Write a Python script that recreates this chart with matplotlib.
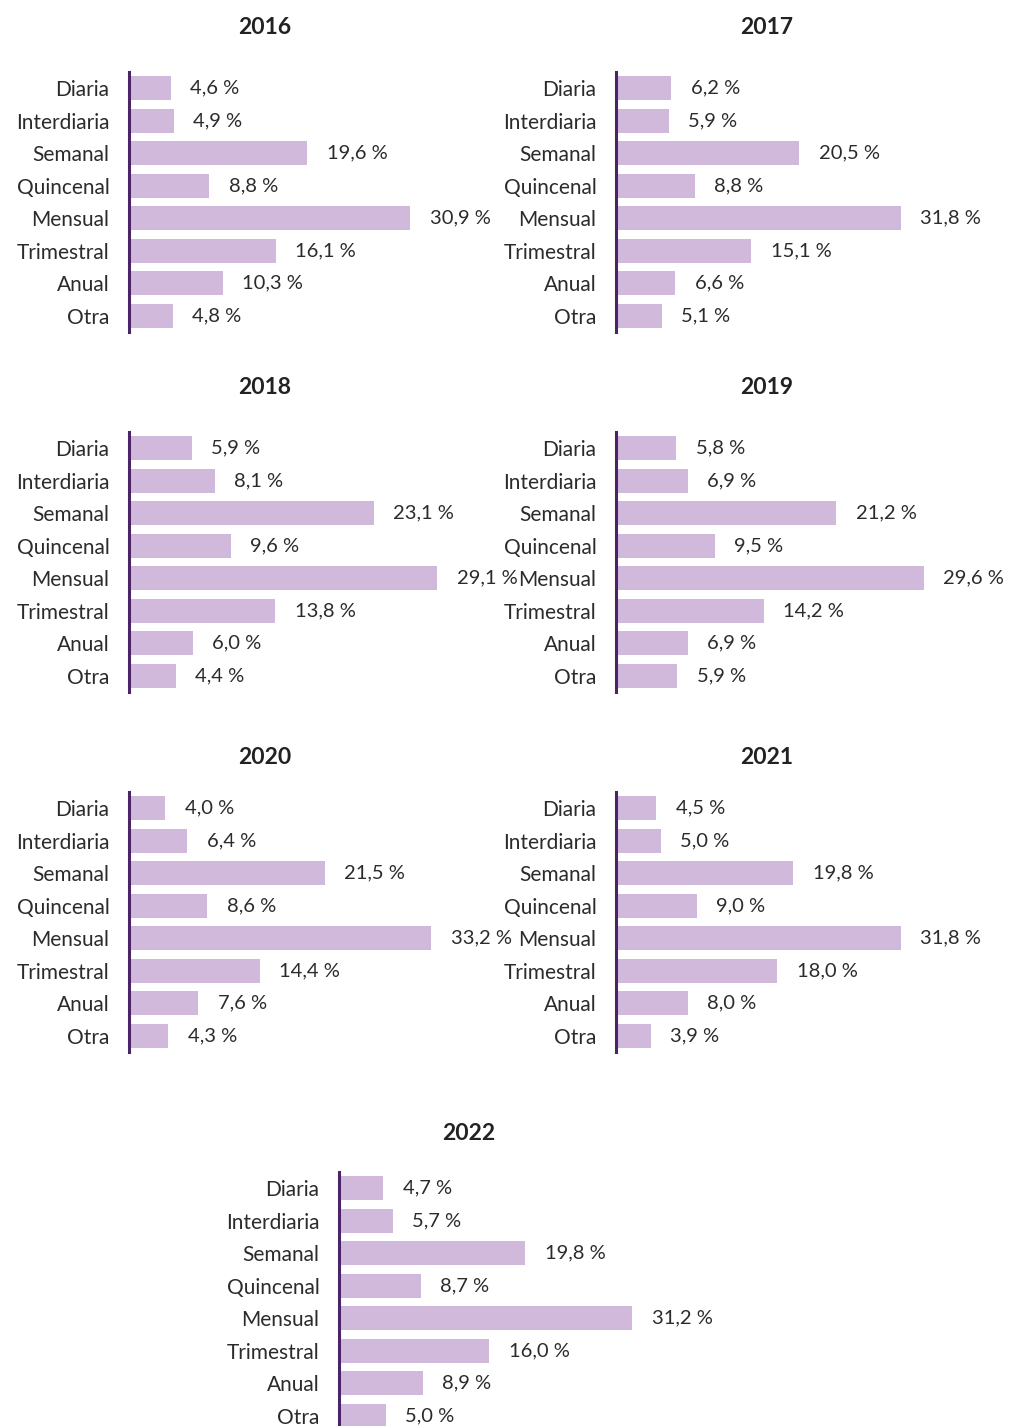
import matplotlib
matplotlib.use('Agg')
import matplotlib.pyplot as plt

## Data
categories = ["Diaria", "Interdiaria", "Semanal", "Quincenal",
              "Mensual", "Trimestral", "Anual", "Otra"]
years = ["2016", "2017", "2018", "2019", "2020", "2021", "2022"]
v2016 = [4.6, 4.9, 19.6, 8.8, 30.9, 16.1, 10.3, 4.8]
v2017 = [6.2, 5.9, 20.5, 8.8, 31.8, 15.1, 6.6, 5.1]
v2018 = [5.9, 8.1, 23.1, 9.6, 29.1, 13.8, 6.0, 4.4]
v2019 = [5.8, 6.9, 21.2, 9.5, 29.6, 14.2, 6.9, 5.9]
v2020 = [4.0, 6.4, 21.5, 8.6, 33.2, 14.4, 7.6, 4.3]
v2021 = [4.5, 5.0, 19.8, 9.0, 31.8, 18.0, 8.0, 3.9]
v2022 = [4.7, 5.7, 19.8, 8.7, 31.2, 16.0, 8.9, 5.0]
series = [v2016, v2017, v2018, v2019, v2020, v2021, v2022]

## Layout (pixels): spine x, axes top y, title centre x, title y, px per unit
spine_x = [129, 616, 129, 616, 129, 616, 339]
top_y = [72, 72, 432, 432, 792, 792, 1172]
title_x = [265, 767, 265, 767, 265, 767, 469]
title_y = [28, 28, 388, 388, 757, 757, 1133]
ppu = [9.1, 8.95, 10.6, 10.4, 9.1, 8.95, 9.4]

plt.rcParams['font.family'] = ['Lato', 'DejaVu Sans']
bar_color = "#D1B9DC"
spine_color = "#4A2466"
text_color = "#2B2B2B"

W, H = 1010, 1426
AX_W, AX_H = 380, 260
fig = plt.figure(figsize=(W / 100, H / 100), dpi=100)

for i, vals in enumerate(series):
    ax = fig.add_axes([spine_x[i] / W, 1 - (top_y[i] + AX_H) / H,
                       AX_W / W, AX_H / H])
    ypos = range(len(categories))
    ax.barh(ypos, vals, height=0.74, color=bar_color, zorder=1)
    for y, v in zip(ypos, vals):
        ax.annotate(f"{v:.1f} %".replace(".", ","), xy=(v, y),
                    xytext=(14, 0), textcoords="offset points",
                    ha="left", va="center", fontsize=14.5, color=text_color)
    ax.set_ylim(len(categories) - 0.5, -0.5)
    ax.set_xlim(0, AX_W / ppu[i])
    ax.set_yticks(list(ypos))
    ax.set_yticklabels(categories, fontsize=15, color=text_color)
    ax.tick_params(axis="y", length=0, pad=14)
    ax.set_xticks([])
    for s in ("top", "right", "bottom"):
        ax.spines[s].set_visible(False)
    ax.spines["left"].set_color(spine_color)
    ax.spines["left"].set_linewidth(2.2)
    ax.spines["left"].set_zorder(3)
    ax.patch.set_alpha(0)
    fig.text(title_x[i] / W, 1 - title_y[i] / H, years[i], ha="center",
             va="center", fontsize=16.5, fontweight="bold", color="#222222")

plt.savefig("out.png", dpi=100)
